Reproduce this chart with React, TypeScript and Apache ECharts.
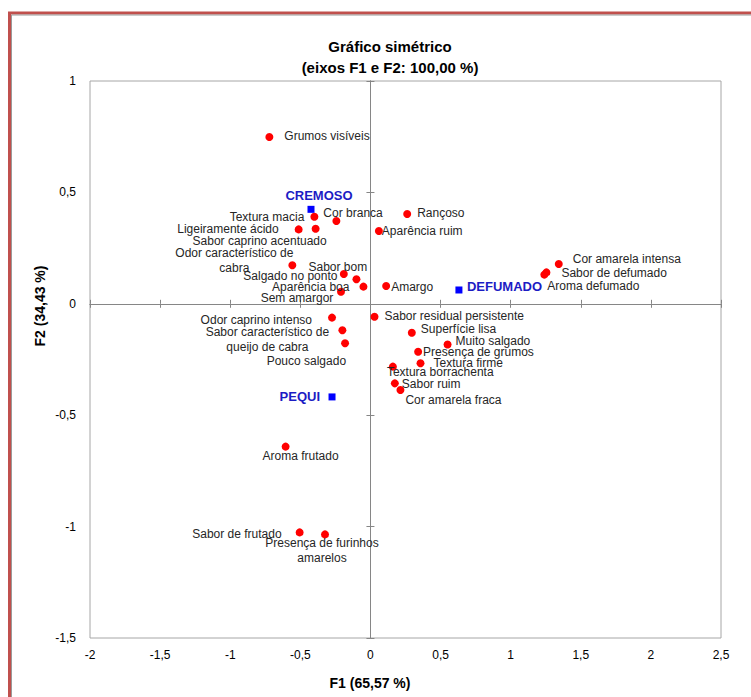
import React, { useEffect, useRef } from "react";
import * as echarts from "echarts";

// Attributes (red points)
const attributeNames: string[] = [
  "Grumos visíveis",
  "Textura macia",
  "Cor branca",
  "Ligeiramente ácido",
  "Sabor caprino acentuado",
  "Odor característico de\ncabra",
  "Sabor bom",
  "Salgado no ponto",
  "Aparência boa",
  "Sem amargor",
  "Rançoso",
  "Aparência ruim",
  "Amargo",
  "Cor amarela intensa",
  "Sabor de defumado",
  "Aroma defumado",
  "Sabor residual persistente",
  "Superfície lisa",
  "Muito salgado",
  "Presença de grumos",
  "Textura firme",
  "Textura borrachenta",
  "Sabor ruim",
  "Cor amarela fraca",
  "Odor caprino intenso",
  "Sabor característico de\nqueijo de cabra",
  "Pouco salgado",
  "Aroma frutado",
  "Sabor de frutado",
  "Presença de furinhos\namarelos",
];
const attributeF1: number[] = [
  -0.721, -0.4, -0.243, -0.512, -0.391, -0.557, -0.19, -0.1, -0.05, -0.21,
  0.262, 0.06, 0.112, 1.343, 1.255, 1.24, 0.029, 0.295, 0.55, 0.34,
  0.357, 0.16, 0.174, 0.214, -0.274, -0.2, -0.181, -0.605, -0.505, -0.324,
];
const attributeF2: number[] = [
  0.749, 0.391, 0.372, 0.334, 0.337, 0.173, 0.134, 0.11, 0.077, 0.054,
  0.403, 0.327, 0.08, 0.179, 0.141, 0.131, -0.058, -0.13, -0.183, -0.215,
  -0.267, -0.282, -0.357, -0.387, -0.062, -0.119, -0.177, -0.641, -1.026, -1.035,
];

// Products (blue squares)
const productNames: string[] = ["CREMOSO", "DEFUMADO", "PEQUI"];
const productF1: number[] = [-0.424, 0.631, -0.274];
const productF2: number[] = [0.424, 0.062, -0.418];

// Axis ranges
const xMin = -2;
const xMax = 2.5;
const yMin = -1.5;
const yMax = 1;
const tickStep = 0.5;

// Label placement (align, dx, dy) relative to the marker centre — layout only
const labelPlace: Record<string, [string, number, number]> = {
  "Grumos visíveis": ["left", 15, -1],
  "Textura macia": ["right", -10, 0],
  "Cor branca": ["left", -13, -8],
  "Ligeiramente ácido": ["right", -20, 0],
  "Sabor caprino acentuado": ["center", -56, 12],
  "Odor característico de\ncabra": ["center", -58, -5],
  "Sabor bom": ["center", -6, -7],
  "Salgado no ponto": ["right", -19, -3],
  "Aparência boa": ["right", -14, 0],
  "Sem amargor": ["center", -44, 6],
  "Rançoso": ["left", 10, -1],
  "Aparência ruim": ["left", 3, 0],
  "Amargo": ["left", 5, 1],
  "Cor amarela intensa": ["left", 14, -5],
  "Sabor de defumado": ["left", 15, 1],
  "Aroma defumado": ["left", 3, 11],
  "Sabor residual persistente": ["left", 10, -1],
  "Superfície lisa": ["left", 9, -4],
  "Muito salgado": ["left", 8, -4],
  "Presença de grumos": ["left", 5, 0],
  "Textura firme": ["left", 13, 0],
  "Textura borrachenta": ["left", -6, 5],
  "Sabor ruim": ["left", 7, 1],
  "Cor amarela fraca": ["left", 5, 10],
  "Odor caprino intenso": ["right", -20, 2],
  "Sabor característico de\nqueijo de cabra": ["center", -75, 9],
  "Pouco salgado": ["right", 1, 18],
  "Aroma frutado": ["center", 15, 9],
  "Sabor de frutado": ["right", -18, 2],
  "Presença de furinhos\namarelos": ["center", -3, 16],
  CREMOSO: ["center", 8, -14],
  DEFUMADO: ["left", 8, -3],
  PEQUI: ["right", -12, 0],
};

const FONT = '"Liberation Sans Narrow", "Arial Narrow", "Liberation Sans", sans-serif';
const DOT = 8;
const SQ = 7;
const BLUE_TEXT = "#1c1cc4";

function pointItem(name: string, x: number, y: number, size: number, extra: any) {
  const p = labelPlace[name] || ["left", 8, 0];
  return {
    name,
    value: [x, y],
    label: {
      show: true,
      formatter: "{b}",
      position: [size / 2 + p[1], size / 2 + p[2]],
      align: p[0],
      verticalAlign: "middle",
      ...extra,
    },
  };
}

const fmt = (v: number) => String(v).replace(".", ",");

export default function App() {
  const ref = useRef<HTMLDivElement>(null);
  useEffect(() => {
    if (!ref.current) return;
    const chart = echarts.init(ref.current, null, { renderer: "svg" });
    const gridRect = { left: 90, top: 81, width: 631, height: 557 };
    const axisColor = "#868686";

    const attrData = attributeNames.map((n, i) =>
      pointItem(n, attributeF1[i], attributeF2[i], DOT, {})
    );
    const prodData = productNames.map((n, i) =>
      pointItem(n, productF1[i], productF2[i], SQ, {
        color: BLUE_TEXT,
        fontWeight: "bold",
        fontSize: 13,
      })
    );

    const baseAxis = (extra: any) => ({
      type: "value",
      interval: tickStep,
      splitLine: { show: false },
      ...extra,
    });

    chart.setOption({
      animation: false,
      backgroundColor: "#ffffff",
      title: {
        text: "Gráfico simétrico\n(eixos F1 e F2: 100,00 %)",
        left: 385,
        top: 31,
        textAlign: "center",
        textStyle: {
          fontFamily: FONT,
          fontSize: 15,
          fontWeight: "bold",
          color: "#000000",
          lineHeight: 21,
        },
      },
      grid: [
        { ...gridRect, show: true, borderColor: "#a6a6a6", borderWidth: 1, backgroundColor: "transparent" },
        { ...gridRect, show: false },
      ],
      xAxis: [
        baseAxis({
          gridIndex: 0,
          min: xMin,
          max: xMax,
          position: "bottom",
          axisLine: { show: false, onZero: false },
          axisTick: { show: false },
          axisLabel: {
            margin: 11,
            fontFamily: FONT,
            fontSize: 12,
            color: "#000000",
            formatter: fmt,
          },
        }),
        baseAxis({
          gridIndex: 1,
          min: xMin,
          max: xMax,
          position: "bottom",
          axisLine: { show: true, onZero: true, lineStyle: { color: axisColor, width: 1 } },
          axisTick: { show: true, inside: false, length: 4, lineStyle: { color: axisColor } },
          axisLabel: { show: false },
        }),
        baseAxis({
          gridIndex: 1,
          min: xMin,
          max: xMax,
          position: "top",
          axisLine: { show: true, onZero: true, lineStyle: { color: axisColor, width: 1 } },
          axisTick: { show: true, inside: false, length: 4, lineStyle: { color: axisColor } },
          axisLabel: { show: false },
        }),
      ],
      yAxis: [
        baseAxis({
          gridIndex: 0,
          min: yMin,
          max: yMax,
          position: "left",
          axisLine: { show: false, onZero: false },
          axisTick: { show: false },
          axisLabel: {
            margin: 14,
            fontFamily: FONT,
            fontSize: 12,
            color: "#000000",
            formatter: fmt,
          },
        }),
        baseAxis({
          gridIndex: 1,
          min: yMin,
          max: yMax,
          position: "left",
          axisLine: { show: true, onZero: true, lineStyle: { color: axisColor, width: 1 } },
          axisTick: { show: true, inside: false, length: 4, lineStyle: { color: axisColor } },
          axisLabel: { show: false },
        }),
        baseAxis({
          gridIndex: 1,
          min: yMin,
          max: yMax,
          position: "right",
          axisLine: { show: true, onZero: true, lineStyle: { color: axisColor, width: 1 } },
          axisTick: { show: true, inside: false, length: 4, lineStyle: { color: axisColor } },
          axisLabel: { show: false },
        }),
      ],
      series: [
        {
          name: "Atributos",
          type: "scatter",
          xAxisIndex: 0,
          yAxisIndex: 0,
          symbol: "circle",
          symbolSize: DOT,
          itemStyle: { color: "#ff0000", opacity: 1 },
          label: {
            fontFamily: FONT,
            fontSize: 12,
            color: "#262626",
            lineHeight: 15,
          },
          labelLayout: { hideOverlap: false },
          data: attrData,
          z: 5,
        },
        {
          name: "Produtos",
          type: "scatter",
          xAxisIndex: 0,
          yAxisIndex: 0,
          symbol: "rect",
          symbolSize: SQ,
          itemStyle: { color: "#0000ff", opacity: 1 },
          label: {
            fontFamily: FONT,
            fontSize: 13,
            fontWeight: "bold",
            color: BLUE_TEXT,
          },
          data: prodData,
          z: 5,
        },
      ],
      graphic: [
        {
          type: "rect",
          silent: true,
          shape: { x: 9.5, y: 13, width: 900, height: 900 },
          style: { fill: "none", stroke: "#c0504d", lineWidth: 3 },
          z: 100,
        },
        {
          type: "rect",
          silent: true,
          shape: { x: 11.5, y: 15, width: 900, height: 900 },
          style: { fill: "none", stroke: "#9a9a9a", lineWidth: 1 },
          z: 100,
        },
        {
          type: "text",
          silent: true,
          x: 370,
          y: 683,
          style: {
            text: "F1 (65,57 %)",
            fontFamily: FONT,
            fontSize: 14,
            fontWeight: "bold",
            fill: "#000000",
            align: "center",
            verticalAlign: "middle",
          },
        },
        {
          type: "text",
          silent: true,
          x: 40,
          y: 306,
          rotation: Math.PI / 2,
          style: {
            text: "F2 (34,43 %)",
            fontFamily: FONT,
            fontSize: 14,
            fontWeight: "bold",
            fill: "#000000",
            align: "center",
            verticalAlign: "middle",
          },
        },
      ],
    });
    return () => chart.dispose();
  }, []);
  return (
    <div
      ref={ref}
      style={{ position: "absolute", left: 0, top: 0, width: 751, height: 697, background: "#fff" }}
    />
  );
}
